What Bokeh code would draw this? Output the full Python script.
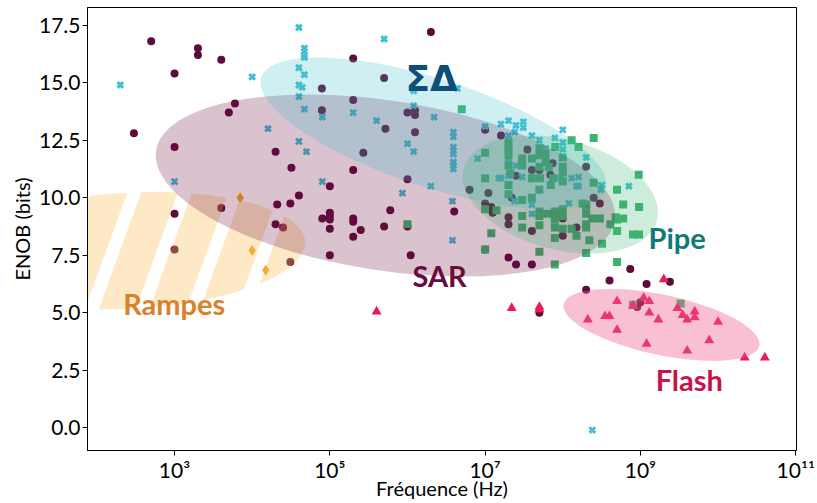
import numpy as np
from bokeh.plotting import figure
from bokeh.models import Range1d, FixedTicker, NumeralTickFormatter, CustomJSTickFormatter
from bokeh.embed import file_html
from bokeh.resources import INLINE
from bokeh.core.properties import value

# ---------------- data (frequency in Hz, ENOB in bits) ----------------
sar_freq = [5.0e2, 2.0e3, 2.0e3, 4.0e3, 1.0e3, 6.0e3, 5.0e3, 3.0e2, 1.0e3, 2.0e4, 3.2e4, 1.0e3, 1.0e3,
            4.0e3, 2.1e4, 2.0e4, 2.5e4, 3.1e4, 4.0e4, 3.1e4, 2.0e5, 2.0e6, 5.0e5, 7.9e4, 2.0e5, 7.9e4,
            1.0e6, 1.25e6, 1.25e6, 5.2e5, 1.25e6, 2.7e5, 2.0e5, 1.0e5, 1.0e6, 6.0e5, 4.0e6, 1.0e5,
            1.0e5, 1.0e5, 2.0e5, 2.0e5, 8.0e4, 1.0e5, 2.5e5, 5.0e5, 1.0e6, 2.0e5, 1.0e5, 1.1e6, 6.3e6,
            1.0e7, 1.6e7, 3.5e7, 7.4e7, 4.0e7, 5.0e7, 2.5e7, 6.9e7, 2.0e8, 1.1e7, 2.2e7, 2.5e8, 3.0e8,
            1.0e7, 1.2e7, 1.25e7, 2.0e7, 2.0e7, 4.0e7, 1.0e8, 1.5e8, 1.0e8, 2.0e7, 2.5e7, 4.0e7, 1.0e7,
            7.4e8, 4.0e8, 1.2e9, 2.4e9, 2.0e8, 1.0e9, 9.1e8, 5.0e7]
sar_enob = [16.8, 16.5, 16.2, 16.0, 15.4, 14.1, 13.7, 12.8, 12.2, 12.0, 11.3, 9.3, 7.75,
            9.55, 9.7, 8.85, 8.7, 7.2, 10.1, 9.75, 16.05, 17.2, 15.2, 14.75, 14.25, 13.8,
            13.7, 13.8, 13.6, 13.0, 12.85, 11.95, 11.2, 10.5, 10.8, 9.45, 9.4, 9.35,
            9.2, 9.05, 9.1, 8.95, 9.1, 8.65, 8.6, 8.75, 8.75, 8.3, 7.5, 7.5, 10.35,
            12.95, 12.7, 12.1, 11.5, 11.2, 11.2, 10.95, 11.0, 11.35, 10.2, 10.0, 10.0, 9.75,
            9.75, 9.6, 9.35, 9.15, 8.85, 8.55, 8.35, 8.7, 9.1, 7.4, 7.1, 7.1, 7.75,
            6.9, 6.4, 6.25, 6.35, 6.0, 5.45, 5.25, 5.0]

sd_freq = [2.0e2, 1.0e4, 1.6e4, 1.0e3, 4.0e4, 4.7e4, 4.7e4, 4.7e4, 4.7e4, 5.0e5, 4.0e4, 4.7e4, 4.0e4,
           4.4e4, 4.0e4, 4.7e4, 8.0e4, 2.0e5, 4.0e5, 1.2e6, 1.2e6, 2.2e6, 4.4e6, 3.9e6, 3.9e6, 3.9e6,
           3.9e6, 3.9e6, 3.9e6, 3.9e6, 3.9e6, 4.0e4, 5.0e4, 1.0e6, 1.2e6, 8.0e4, 8.6e5, 2.0e6, 3.8e6,
           3.8e6, 2.4e8, 1.0e7, 1.6e7, 2.0e7, 2.5e7, 3.1e7, 3.1e7, 2.4e7, 4.0e7, 5.0e7, 1.0e8, 7.9e7,
           1.0e8, 1.0e8, 6.0e7, 2.0e8, 8.0e6, 2.0e7, 2.0e7, 2.0e7, 2.0e7, 2.0e7, 2.5e7, 3.0e7, 1.6e7,
           1.5e7, 9.3e7, 1.3e8, 1.6e8, 1.5e8, 1.6e8, 3.2e8, 3.1e8, 7.1e8, 2.4e7, 4.0e7, 4.0e7, 1.2e8]
sd_enob = [14.9, 15.25, 13.0, 10.7, 17.4, 16.5, 16.35, 16.2, 16.1, 16.9, 15.65, 15.35, 14.9,
           14.8, 14.4, 13.85, 13.5, 13.7, 13.35, 14.65, 14.0, 13.5, 14.75, 12.85, 12.65, 12.2,
           12.05, 11.9, 11.55, 11.4, 11.25, 12.45, 12.0, 12.35, 12.0, 10.7, 10.2, 10.5, 9.85,
           8.15, -0.1, 13.1, 13.2, 13.35, 13.15, 13.3, 13.05, 12.85, 12.7, 12.5, 12.95, 12.6,
           12.4, 12.1, 12.15, 11.75, 11.7, 12.7, 11.7, 11.4, 10.95, 10.15, 11.4, 10.9, 10.85,
           10.85, 10.85, 10.85, 10.9, 10.5, 10.5, 10.55, 10.35, 10.5, 9.85, 9.7, 9.3, 9.75]

pipe_freq = [5.0e6, 2.5e8, 1.3e8, 1.6e8, 1.0e7, 2.0e7, 2.0e7, 2.0e7, 3.0e7, 3.0e7, 4.0e7, 5.0e7, 5.0e7,
             6.0e7, 6.0e7, 8.0e7, 1.0e8, 2.0e7, 5.0e7, 6.6e7, 1.0e8, 1.0e8, 2.1e7, 4.0e7, 5.1e7, 7.5e7,
             1.0e8, 7.0e7, 2.0e7, 5.0e7, 2.0e7, 2.5e8, 5.0e8, 9.5e8, 6.0e8, 9.6e8, 1.0e7, 1.0e7, 1.4e7,
             3.0e7, 4.0e7, 1.8e8, 2.0e8, 3.0e7, 5.0e7, 5.0e7, 6.3e7, 7.9e7, 7.9e7, 1.0e8, 1.0e8, 2.0e8,
             2.4e8, 3.0e8, 4.8e8, 6.0e8, 7.9e7, 7.9e7, 7.9e7, 1.0e8, 3.0e7, 5.0e7, 1.3e8, 1.5e8, 2.0e8,
             2.0e8, 2.0e8, 2.2e8, 4.1e8, 3.2e8, 5.0e8, 5.0e8, 8.0e8, 9.6e8, 1.2e7, 5.0e7, 7.9e7, 2.0e8,
             5.0e8, 1.0e7, 8.0e8, 3.3e9, 1.0e6]
pipe_enob = [13.85, 12.6, 12.5, 12.2, 11.95, 12.4, 12.15, 11.85, 11.7, 11.4, 11.7, 12.15, 11.85,
             11.9, 11.55, 12.2, 11.75, 11.4, 11.35, 11.35, 11.35, 11.1, 11.05, 10.85, 10.85, 10.85,
             10.7, 10.55, 10.55, 10.35, 10.15, 10.65, 10.35, 11.0, 9.7, 9.6, 10.85, 9.5, 9.45,
             9.9, 10.0, 9.75, 9.65, 9.2, 9.4, 9.2, 9.3, 9.4, 9.2, 9.5, 9.2, 9.3,
             9.1, 9.1, 9.15, 9.1, 9.05, 8.7, 8.25, 8.65, 8.7, 8.8, 8.65, 8.35, 8.85,
             8.7, 9.7, 8.15, 8.85, 8.0, 9.05, 8.55, 8.4, 8.4, 8.45, 7.65, 7.1, 7.6,
             7.2, 7.75, 5.35, 5.4, 8.85]

flash_freq = [4.0e5, 2.2e7, 5.0e7, 5.0e7, 2.0e9, 5.0e8, 1.1e9, 1.3e9, 8.0e8, 2.1e8, 3.5e8, 4.0e8, 1.3e9,
              1.7e9, 3.0e9, 3.5e9, 4.0e9, 5.0e9, 5.0e9, 1.0e10, 5.0e8, 1.2e9, 7.7e9, 4.0e9, 2.2e10, 4.0e10]
flash_enob = [5.05, 5.2, 5.25, 5.15, 6.45, 5.5, 5.65, 5.5, 5.3, 4.7, 4.85, 4.85, 5.0,
              4.7, 5.2, 4.9, 4.7, 5.05, 4.8, 4.6, 4.25, 3.65, 3.8, 3.35, 3.05, 3.05]

ramp_freq = [7.0e3, 1.0e4, 1.5e4]
ramp_enob = [10.0, 7.7, 6.85]

# region ellipses: centre (Hz, bits), full axes (px), tilt (deg), colour, alpha
reg_names = ["SAR", "SigmaDelta", "Pipe", "Flash"]
reg_freq = [5.2e5, 2.16e6, 9.3e7, 1.87e9]
reg_enob = [10.53, 12.8, 10.14, 4.47]
reg_w = [464, 362, 200, 200]
reg_h = [170, 108, 110, 60]
reg_angle = [-8.7, -18, -15, -12]
reg_color = ["#6b0d3f", "#40bfcf", "#3cb371", "#f06292"]
reg_alpha = [0.25, 0.25, 0.25, 0.40]

# striped "Rampes" region
ramp_c_freq, ramp_c_enob = 2.7e2, 7.70
ramp_a, ramp_b, ramp_tilt = 175, 58, 3
ramp_color, ramp_alpha = "#f9c05a", 0.35
stripe_angle, stripe_period, stripe_gap, stripe_offset = 70, 47.5, 13, -16.2

# labels
lab_text = ["SAR", "Pipe", "Rampes", "Flash"]
lab_freq = [1.16e6, 1.27e9, 2.18e2, 1.57e9]
lab_enob = [6.61, 8.27, 5.39, 2.08]
lab_color = ["#6a0a3d", "#0f7b78", "#d9822b", "#c8124c"]
sd_lab_freq, sd_lab_enob = 9.4e5, 15.19

x_ticks = [1e3, 1e5, 1e7, 1e9, 1e11]
x_tick_labels = ["10³", "10⁵", "10⁷", "10⁹", "10¹¹"]
y_ticks = [0.0, 2.5, 5.0, 7.5, 10.0, 12.5, 15.0, 17.5]

# ---------------- figure ----------------
XL0, XL1 = 1.879, 11.01
Y0, Y1 = -0.99, 18.27
FW, FH = 709, 443

p = figure(x_axis_type="log", x_range=Range1d(10 ** XL0, 10 ** XL1), y_range=Range1d(Y0, Y1),
           frame_width=FW, frame_height=FH, output_backend="svg", toolbar_location=None,
           min_border_left=87, min_border_right=20, min_border_top=7, min_border_bottom=52,
           background_fill_color="white", border_fill_color="white")
p.grid.visible = False
p.outline_line_color = "black"
p.outline_line_width = 1

# markers
p.scatter(sar_freq, sar_enob, marker="circle", size=8, fill_color="#5e0a3c", line_color=None)
p.scatter(sd_freq, sd_enob, marker="x", size=8, line_color="#40c0d2", line_width=3)
p.scatter(pipe_freq, pipe_enob, marker="square", size=8, fill_color="#3cb46e", line_color=None)
p.scatter(flash_freq, flash_enob, marker="triangle", size=10, fill_color="#e81c5a", line_color=None)
p.scatter(ramp_freq, ramp_enob, marker="diamond", size=11, fill_color="#f5a623", line_color=None)

# striped Rampes region, built in screen pixels then mapped through the axes scales
ppd = FW / (XL1 - XL0)
ppu = FH / (Y1 - Y0)
th = np.radians(ramp_tilt)
psi = np.linspace(0, 2 * np.pi, 240, endpoint=False)
ex = ramp_a * np.cos(psi) * np.cos(th) - ramp_b * np.sin(psi) * np.sin(th)
ey = ramp_a * np.cos(psi) * np.sin(th) + ramp_b * np.sin(psi) * np.cos(th)
ell = list(zip(ex, ey))
phi = np.radians(stripe_angle)
nx, ny = np.sin(phi), -np.cos(phi)


def clip(poly, c, keep_ge):
    out = []
    n = len(poly)
    for i in range(n):
        P, Q = poly[i], poly[(i + 1) % n]
        sp = nx * P[0] + ny * P[1] - c
        sq = nx * Q[0] + ny * Q[1] - c
        if not keep_ge:
            sp, sq = -sp, -sq
        if sp >= 0:
            out.append(P)
        if (sp >= 0) != (sq >= 0):
            t = sp / (sp - sq)
            out.append((P[0] + t * (Q[0] - P[0]), P[1] + t * (Q[1] - P[1])))
    return out


xs, ys = [], []
lc = np.log10(ramp_c_freq)
for k in range(-6, 7):
    lo = stripe_offset + k * stripe_period + stripe_gap / 2
    hi = stripe_offset + (k + 1) * stripe_period - stripe_gap / 2
    poly = clip(clip(ell, lo, True), hi, False)
    if len(poly) >= 3:
        xs.append([10 ** (lc + q[0] / ppd) for q in poly])
        ys.append([ramp_c_enob + q[1] / ppu for q in poly])
p.patches(xs, ys, fill_color=ramp_color, fill_alpha=ramp_alpha, line_color=None)

# region ellipses
p.ellipse(x=reg_freq, y=reg_enob, width=reg_w, height=reg_h,
          angle=[np.radians(a) for a in reg_angle], width_units="screen", height_units="screen",
          fill_color=reg_color, fill_alpha=reg_alpha, line_color=None)

# labels
for t, fx, fy, c in zip(lab_text, lab_freq, lab_enob, lab_color):
    p.text(x=[fx], y=[fy], text=[t], text_font=value("Lato"), text_font_style="bold",
           text_font_size="29px", text_color=c, text_align="left", text_baseline="alphabetic")
p.text(x=[sd_lab_freq], y=[sd_lab_enob], text=["ΣΔ"], text_font=value("DejaVu Sans"),
       text_font_style="bold", text_font_size="36px", text_color="#0b4f7a",
       text_align="left", text_baseline="alphabetic")

# axes
p.xaxis.ticker = FixedTicker(ticks=x_ticks)
p.xaxis.formatter = CustomJSTickFormatter(args=dict(t=x_ticks, l=x_tick_labels), code="""
    for (let i = 0; i < t.length; i++) { if (Math.abs(Math.log10(tick) - Math.log10(t[i])) < 1e-6) return l[i]; }
    return '';
""")
p.yaxis.ticker = FixedTicker(ticks=y_ticks)
p.yaxis.formatter = NumeralTickFormatter(format="0.0")
p.xaxis.axis_label = "Fréquence (Hz)"
p.yaxis.axis_label = "ENOB (bits)"
for ax in (p.xaxis, p.yaxis):
    ax.axis_label_text_font = "Lato"
    ax.axis_label_text_font_style = "normal"
    ax.axis_label_text_font_size = "20px"
    ax.axis_label_text_color = "black"
    ax.major_label_text_font = "Lato"
    ax.major_label_text_font_size = "21px"
    ax.major_label_text_color = "black"
    ax.axis_line_color = "black"
    ax.major_tick_line_color = "black"
    ax.major_tick_out = 5
    ax.major_tick_in = 0
    ax.minor_tick_out = 0
    ax.minor_tick_in = 0
    ax.major_label_standoff = 2
    ax.axis_label_standoff = 2
p.xaxis.major_label_standoff = 1
p.xaxis.axis_label_standoff = -9

open("out.html", "w").write(file_html(p, INLINE))
